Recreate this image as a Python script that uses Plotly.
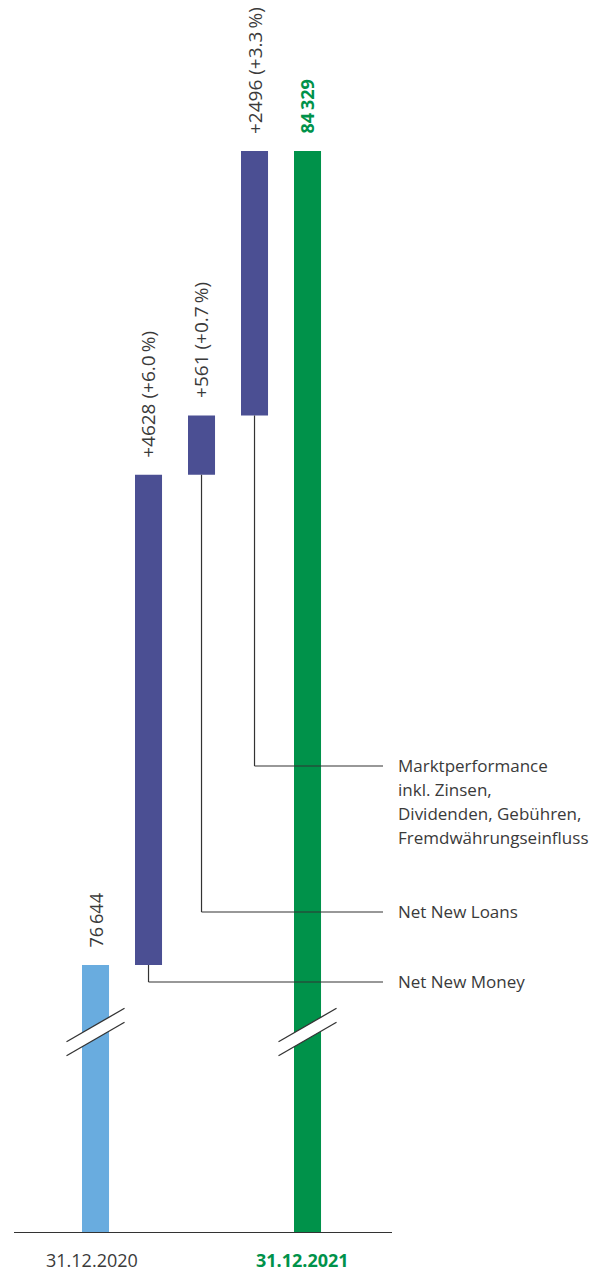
import plotly.graph_objects as go

# ---------------- data ----------------
categories = ["31.12.2020", "Net New Money", "Net New Loans",
              "Marktperformance", "31.12.2021"]
start_value = 76644
end_value = 84329
changes = [4628, 561, 2496]
change_pct = [6.0, 0.7, 3.3]
start_label = "76\u2009644"
end_label = "84\u2009329"
date_labels = ["31.12.2020", "31.12.2021"]
change_names = [["Net New Money"], ["Net New Loans"],
                ["Marktperformance", "inkl. Zinsen,", "Dividenden, Gebühren,", "Fremdwährungseinfluss"]]

# ---------------- style ----------------
C_START = "#69acdf"
C_CHANGE = "#4b4f93"
C_END = "#00924a"
C_TEXT = "#3a3a3a"
C_LINE = "#333333"
FONT = "Open Sans"

W, H = 600, 1272
L, R, T, B = 14, 600 - 392, 0, 1272 - 1232
plot_w = W - L - R
plot_h = H - T - B
x_range = [-1.538, 5.594]
y_range = [74123, 85755]

def px_to_y(py):
    return y_range[1] - (py - T) / plot_h * (y_range[1] - y_range[0])

def px_to_x(px):
    return x_range[0] + (px - L) / plot_w * (x_range[1] - x_range[0])

def px_to_paper_x(px):
    return (px - L) / plot_w

# cumulative bases
bases = []
acc = start_value
for c in changes:
    bases.append(acc)
    acc += c

bar_w = 0.51
fig = go.Figure()
fig.add_trace(go.Bar(x=[0], y=[start_value], width=bar_w,
                     marker=dict(color=C_START, line=dict(width=0))))
fig.add_trace(go.Bar(x=[1, 2, 3], y=changes, base=bases, width=bar_w,
                     marker=dict(color=C_CHANGE, line=dict(width=0))))
fig.add_trace(go.Bar(x=[4], y=[end_value], width=bar_w,
                     marker=dict(color=C_END, line=dict(width=0))))

shapes = []
annotations = []

# value labels (rotated)
tops = [start_value] + [b + c for b, c in zip(bases, changes)] + [end_value]
texts = [start_label] + [f"+{c} (+{p:.1f}\u2009%)" for c, p in zip(changes, change_pct)] + [f"<b>{end_label}</b>"]
colors = [C_TEXT, C_TEXT, C_TEXT, C_TEXT, C_END]
sizes = [18, 19, 19, 19, 18]
for i, (yt, tx, col, sz) in enumerate(zip(tops, texts, colors, sizes)):
    annotations.append(dict(x=i, y=yt, xref="x", yref="y", text=tx, showarrow=False,
                            textangle=-90, yanchor="bottom", xanchor="center",
                            yshift=15, font=dict(family=FONT, size=sz, color=col)))

# connector lines + labels
label_py = [982, 912, 766]
line_gap = 24.3
x_end = px_to_x(383)
for i, (b, lines, lpy) in enumerate(zip(bases, change_names, label_py)):
    xi = i + 1
    yl = px_to_y(lpy)
    shapes.append(dict(type="line", xref="x", yref="y", x0=xi, x1=xi, y0=b, y1=yl,
                       line=dict(color=C_LINE, width=1.2)))
    shapes.append(dict(type="line", xref="x", yref="y", x0=xi, x1=x_end, y0=yl, y1=yl,
                       line=dict(color=C_LINE, width=1.2)))
    for k, ln in enumerate(lines):
        annotations.append(dict(x=px_to_paper_x(396), y=yl, xref="paper", yref="y", text=ln,
                                showarrow=False, xanchor="left", yanchor="middle",
                                yshift=-k * line_gap + 1,
                                align="left", font=dict(family=FONT, size=17, color=C_TEXT)))

# axis break marks
for xi in [0, 4]:
    half = 29 / 53
    dy_px = 16.7
    sep = 7
    cpy = 1032
    yA1 = px_to_y(cpy - sep + dy_px)
    yA2 = px_to_y(cpy - sep - dy_px)
    yB1 = px_to_y(cpy + sep + dy_px)
    yB2 = px_to_y(cpy + sep - dy_px)
    x0, x1 = xi - half, xi + half
    shapes.append(dict(type="path", xref="x", yref="y",
                       path=f"M {x0},{yA1} L {x1},{yA2} L {x1},{yB2} L {x0},{yB1} Z",
                       fillcolor="white", line=dict(width=0)))
    for ya, yb in [(yA1, yA2), (yB1, yB2)]:
        shapes.append(dict(type="line", xref="x", yref="y", x0=x0, x1=x1, y0=ya, y1=yb,
                           line=dict(color=C_LINE, width=1.3)))

# date labels
annotations.append(dict(x=0, y=0, xref="x", yref="paper", text=date_labels[0], showarrow=False,
                        xshift=-4, yshift=-28, yanchor="middle",
                        font=dict(family=FONT, size=18, color=C_TEXT)))
annotations.append(dict(x=4, y=0, xref="x", yref="paper", text=f"<b>{date_labels[1]}</b>",
                        showarrow=False, xshift=-5, yshift=-28, yanchor="middle",
                        font=dict(family=FONT, size=18, color=C_END)))

fig.update_layout(
    width=W, height=H,
    margin=dict(l=L, r=R, t=T, b=B, pad=0),
    paper_bgcolor="white", plot_bgcolor="white",
    showlegend=False, barmode="overlay",
    shapes=shapes, annotations=annotations,
    font=dict(family=FONT, color=C_TEXT),
    xaxis=dict(range=x_range, showgrid=False, zeroline=False, showticklabels=False,
               ticks="", showline=True, linecolor=C_LINE, linewidth=1, fixedrange=True),
    yaxis=dict(range=y_range, showgrid=False, zeroline=False, showticklabels=False,
               ticks="", showline=False, fixedrange=True),
)

fig.write_html("out.html", config={"displayModeBar": False},
               post_script="document.body.style.margin='0';document.body.style.padding='0';")
